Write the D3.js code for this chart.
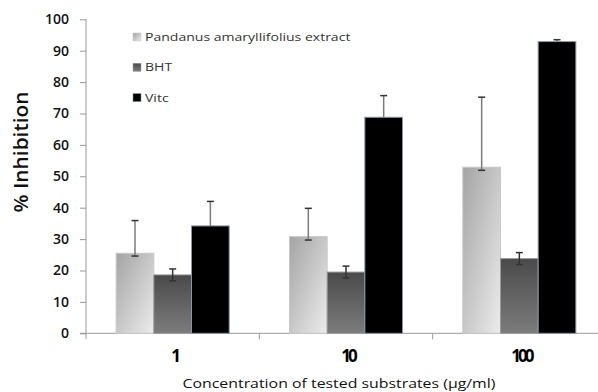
<!DOCTYPE html>
<html>
<head>
<meta charset="utf-8">
<script src="https://cdn.jsdelivr.net/npm/d3@7"></script>
<style>
  body { margin: 0; background: #fff; }
  text { font-family: "Open Sans", sans-serif; }
</style>
</head>
<body>
<div id="graph"></div>
<script>
var width = 598;
var height = 392;

// data
var categories = ['1', '10', '100'];
var series = ['Pandanus amaryllifolius extract', 'BHT', 'Vitc'];
var extract = [25.5, 30.8, 52.9];
var bht = [18.6, 19.5, 23.8];
var vitc = [34.2, 68.8, 92.9];
var extractErrUp = [10.4, 9.0, 22.3];
var extractErrDown = [0.9, 1.1, 1.0];
var bhtErr = [1.9, 1.9, 1.9];
var vitcErrUp = [7.8, 6.9, 0.6];
var vitcErrDown = [0, 0, 0];
var yTicks = [0, 10, 20, 30, 40, 50, 60, 70, 80, 90, 100];

var values = [extract, bht, vitc];
var errUp = [extractErrUp, bhtErr, vitcErrUp];
var errDown = [extractErrDown, bhtErr, vitcErrDown];

// the picture is stretched sideways a little
var stretch = 1.22;

var rows = [];
categories.forEach(function(c, i) {
    series.forEach(function(s, j) {
        rows.push({cat: c, s: s, j: j, v: values[j][i], up: errUp[j][i], down: errDown[j][i]});
    });
});

var graph = document.getElementById('graph');

var svg = d3.select(graph)
    .append('svg')
    .attr('width', width)
    .attr('height', height);

var defs = svg.append('defs');
var g1 = defs.append('linearGradient').attr('id', 'gLight')
    .attr('x1', '0').attr('y1', '0').attr('x2', '1').attr('y2', '1');
g1.append('stop').attr('offset', '0').attr('stop-color', '#a4a4a4');
g1.append('stop').attr('offset', '1').attr('stop-color', '#ececec');
var g2 = defs.append('linearGradient').attr('id', 'gDark')
    .attr('x1', '0').attr('y1', '0').attr('x2', '0').attr('y2', '1');
g2.append('stop').attr('offset', '0').attr('stop-color', '#4a4a4a');
g2.append('stop').attr('offset', '1').attr('stop-color', '#7c7c7c');

var fills = ['url(#gLight)', 'url(#gDark)', '#000'];
var strokes = ['#c8c8c8', '#9a9a9a', '#8a96a4'];

var x0 = d3.scaleBand().domain(categories).range([86, 606]);
var x1 = d3.scaleBand().domain(series).range([0, x0.bandwidth()]).paddingOuter(0.8);
var y = d3.scaleLinear().domain([0, 100]).range([333.3, 19.3]);

// y axis
var yAxis = svg.append('g')
    .attr('transform', 'translate(86,0)')
    .call(d3.axisLeft(y).tickValues(yTicks).tickSize(6).tickPadding(11));
yAxis.select('.domain').attr('stroke', '#999').attr('d', 'M0,19.3V339');
yAxis.selectAll('.tick line').attr('stroke', '#999');
yAxis.selectAll('.tick text')
    .attr('fill', '#111')
    .style('font-size', '14px')
    .style('font-weight', '600');

// x axis
var xAxis = svg.append('g')
    .attr('transform', 'translate(0,' + y(0) + ')')
    .call(d3.axisBottom(x0).tickSize(0).tickPadding(17));
xAxis.select('.domain').attr('stroke', '#999').attr('d', 'M80,0H606');
xAxis.selectAll('.tick text')
    .attr('fill', '#000')
    .attr('dx', 2)
    .style('font-size', '17px')
    .style('font-weight', 'bold')
    .style('letter-spacing', '-3px');
svg.selectAll('.xsep')
    .data(categories.slice(1))
    .enter()
    .append('line')
    .attr('x1', function(d) { return x0(d); })
    .attr('x2', function(d) { return x0(d); })
    .attr('y1', y(0))
    .attr('y2', y(0) + 6)
    .attr('stroke', '#999');

// bars
svg.selectAll('.bar')
    .data(rows)
    .enter()
    .append('rect')
    .attr('x', function(d) { return x0(d.cat) + x1(d.s); })
    .attr('y', function(d) { return y(d.v); })
    .attr('width', x1.bandwidth())
    .attr('height', function(d) { return y(0) - y(d.v); })
    .attr('fill', function(d) { return fills[d.j]; })
    .attr('stroke', function(d) { return strokes[d.j]; })
    .attr('stroke-width', 1);

// error bars
var cx = function(d) { return x0(d.cat) + x1(d.s) + x1.bandwidth() / 2; };
var err = svg.selectAll('.err')
    .data(rows)
    .enter()
    .append('g')
    .attr('stroke', '#333');
err.append('line')
    .attr('x1', cx)
    .attr('x2', cx)
    .attr('y1', function(d) { return y(d.v - d.down); })
    .attr('y2', function(d) { return y(d.v + d.up); })
    .attr('stroke', function(d) { return d.j == 1 ? '#333' : '#7a7a7a'; })
    .attr('stroke-width', 1.5);
err.append('line')
    .attr('x1', function(d) { return cx(d) - 3.5; })
    .attr('x2', function(d) { return cx(d) + 3.5; })
    .attr('y1', function(d) { return y(d.v + d.up); })
    .attr('y2', function(d) { return y(d.v + d.up); })
    .attr('stroke-width', 1.5);
err.filter(function(d) { return d.down > 0; })
    .append('line')
    .attr('x1', function(d) { return cx(d) - 3.5; })
    .attr('x2', function(d) { return cx(d) + 3.5; })
    .attr('y1', function(d) { return y(d.v - d.down); })
    .attr('y2', function(d) { return y(d.v - d.down); })
    .attr('stroke-width', 1.5);

// legend
var legend = svg.selectAll('.legend')
    .data(series)
    .enter()
    .append('g')
    .attr('transform', function(d, i) { return 'translate(133,' + (37 + i * 30.3) + ')'; });
legend.append('rect')
    .attr('x', 0)
    .attr('y', -4)
    .attr('width', 8)
    .attr('height', 8)
    .attr('fill', function(d, i) { return fills[i]; })
    .attr('stroke', function(d, i) { return strokes[i]; })
    .attr('stroke-width', 0.5);
var legendText = legend.append('text')
    .attr('x', 12)
    .attr('y', 4)
    .attr('fill', '#333')
    .style('font-size', '11.5px')
    .text(function(d) { return d; });

// axis titles
var yTitle = svg.append('text')
    .attr('transform', 'translate(28,152) rotate(-90)')
    .attr('text-anchor', 'middle')
    .attr('fill', '#111')
    .style('font-size', '19px')
    .style('font-weight', '600')
    .text('% Inhibition');

var xTitle = svg.append('text')
    .attr('x', 339)
    .attr('y', 388)
    .attr('text-anchor', 'middle')
    .attr('fill', '#111')
    .style('font-size', '13px')
    .text('Concentration of tested substrates (µg/ml)');

// widen the flat texts to match the stretched picture
legendText.each(function() {
    d3.select(this)
        .attr('textLength', this.getComputedTextLength() * stretch)
        .attr('lengthAdjust', 'spacingAndGlyphs');
});
xTitle.attr('textLength', xTitle.node().getComputedTextLength() * stretch)
    .attr('lengthAdjust', 'spacingAndGlyphs');
yTitle.attr('textLength', 121).attr('lengthAdjust', 'spacingAndGlyphs');
</script>
</body>
</html>
